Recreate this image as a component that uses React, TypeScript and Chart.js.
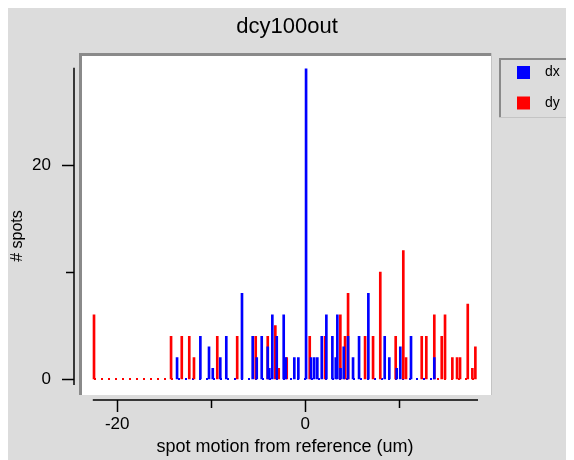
import React, { useEffect, useRef } from 'react';
import { Chart, registerables } from 'chart.js';

Chart.register(...registerables);

const TITLE = 'dcy100out';
const X_TITLE = 'spot motion from reference (um)';
const Y_TITLE = '# spots';
const SERIES_LABELS = ['dx', 'dy'];
const X_LABELED_TICKS = [-20, 0];
const Y_LABELED_TICKS = [0, 20];

// dx histogram (blue): bin positions (um) and counts
const dxPos = [-13.63, -11.15, -10.23, -9.83, -9.03, -8.39, -6.72, -5.58, -5.15, -4.62, -3.98, -3.81, -3.49, -3.02, -2.28, -2.06, -1.15, -0.72, 0.1, 0.63, 0.97, 1.3, 1.77, 2.26, 2.9, 3.26, 3.43, 3.77, 4.11, 4.57, 5.1, 5.74, 6.73, 8.47, 8.96, 9.75, 10.13, 11.27, 13.75];
const dxCount = [2, 4, 3, 1, 2, 4, 8, 4, 2, 4, 3, 1, 6, 4, 6, 2, 2, 2, 29, 2, 2, 2, 4, 6, 4, 2, 6, 1, 3, 4, 2, 4, 8, 4, 2, 1, 3, 4, 2];

// dy histogram (red)
const dyPos = [-22.47, -14.27, -13.13, -12.33, -11.83, -9.35, -7.23, -5.26, -3.98, -3.17, -2.81, -1.96, 0.49, 2.12, 3.75, 4.25, 4.57, 6.38, 7.23, 8.0, 9.64, 10.45, 10.74, 12.41, 12.9, 13.75, 14.54, 14.89, 15.67, 16.17, 16.49, 17.31, 17.8, 18.12];
const dyCount = [6, 4, 4, 4, 2, 4, 4, 4, 4, 5, 1, 2, 4, 4, 6, 4, 8, 4, 4, 10, 4, 12, 2, 4, 4, 6, 4, 6, 2, 2, 2, 7, 1, 3];

// extent of each histogram (zero bins drawn as dotted baseline)
const dxRange = [-13.9, 13.75];
const dyRange = [-22.47, 18.12];

const X_MIN = -24.6;
const X_MAX = 18.4;
const X_AXIS_START = -22.6;
const Y_MIN = -0.56;
const Y_MAX = 29.1;

const BG = '#dcdcdc';
const BLUE = '#0000ff';
const RED = '#ff0000';
const FONT = "'Liberation Sans', Arial, sans-serif";

export default function App() {
  const ref = useRef<HTMLCanvasElement | null>(null);

  useEffect(() => {
    if (!ref.current) return;

    const framePlugin = {
      id: 'igorFrame',
      beforeDraw(chart: any) {
        const ctx = chart.ctx;
        ctx.save();
        ctx.fillStyle = BG;
        ctx.fillRect(0, 0, chart.width, chart.height);
        // white plot box
        ctx.fillStyle = '#ffffff';
        ctx.fillRect(71, 48, 413, 342);
        ctx.fillStyle = '#8a8a8a';
        ctx.fillRect(71, 48, 413, 3);
        ctx.fillRect(71, 48, 3, 342);
        ctx.fillStyle = '#c4c4c4';
        ctx.fillRect(483, 48, 1, 342);
        ctx.restore();
      },
      afterDraw(chart: any) {
        const ctx = chart.ctx;
        const xs = chart.scales.x;
        const ys = chart.scales.y;
        const area = chart.chartArea;
        ctx.save();
        ctx.strokeStyle = '#000';
        ctx.lineWidth = 1.5;
        // x axis
        const axisY = 395;
        const x0 = xs.getPixelForValue(X_AXIS_START);
        const x1 = xs.getPixelForValue(X_MAX);
        ctx.beginPath();
        ctx.moveTo(x0, axisY);
        ctx.lineTo(x1, axisY);
        for (const t of xs.ticks) {
          const px = Math.round(xs.getPixelForValue(t.value)) + 0.5;
          const len = X_LABELED_TICKS.includes(t.value) ? 12 : 8;
          ctx.moveTo(px, axisY);
          ctx.lineTo(px, axisY + len);
        }
        ctx.stroke();
        // y axis
        const axisX = area.left;
        ctx.beginPath();
        ctx.moveTo(axisX, area.top);
        ctx.lineTo(axisX, area.bottom);
        for (const t of ys.ticks) {
          const py = Math.round(ys.getPixelForValue(t.value)) + 0.5;
          const len = Y_LABELED_TICKS.includes(t.value) ? 12 : 8;
          ctx.moveTo(axisX, py);
          ctx.lineTo(axisX - len, py);
        }
        ctx.stroke();

        // titles
        ctx.fillStyle = '#000';
        ctx.textAlign = 'center';
        ctx.textBaseline = 'middle';
        ctx.font = `22px ${FONT}`;
        ctx.fillText(TITLE, 279, 22);
        ctx.font = `18px ${FONT}`;
        ctx.fillText(X_TITLE, 277, 442);
        ctx.save();
        ctx.font = `16px ${FONT}`;
        ctx.translate(10, 231);
        ctx.rotate(-Math.PI / 2);
        ctx.fillText(Y_TITLE, 0, 0);
        ctx.restore();

        // legend
        ctx.fillStyle = '#8a8a8a';
        ctx.fillRect(491, 53, 75, 2);
        ctx.fillRect(491, 53, 2, 60);
        ctx.fillStyle = '#c4c4c4';
        ctx.fillRect(491, 112, 75, 1);
        const colors = [BLUE, RED];
        ctx.font = `14px ${FONT}`;
        ctx.textAlign = 'left';
        for (let i = 0; i < 2; i++) {
          const cy = 67.5 + i * 30.5;
          ctx.fillStyle = colors[i];
          ctx.fillRect(509, cy - 6.5, 13, 13);
          ctx.fillStyle = '#000';
          ctx.fillText(chart.data.datasets[i].label, 537, cy);
        }
        ctx.restore();
      },
    };

    const chart = new Chart(ref.current, {
      type: 'bar',
      data: {
        datasets: [
          {
            label: SERIES_LABELS[0],
            data: dxPos.map((x, i) => ({ x, y: dxCount[i] })),
            backgroundColor: BLUE,
            barThickness: 2,
            grouped: false,
            order: 0,
          } as any,
          {
            label: SERIES_LABELS[1],
            data: dyPos.map((x, i) => ({ x, y: dyCount[i] })),
            backgroundColor: RED,
            barThickness: 2,
            grouped: false,
            order: 1,
          } as any,
          {
            type: 'line',
            label: 'dx zero',
            data: [{ x: dxRange[0], y: 0 }, { x: dxRange[1], y: 0 }],
            borderColor: BLUE,
            borderWidth: 2,
            borderDash: [2, 5],
            borderDashOffset: 3.5,
            pointRadius: 0,
            order: 2,
          } as any,
          {
            type: 'line',
            label: 'dy zero',
            data: [{ x: dyRange[0], y: 0 }, { x: dyRange[1], y: 0 }],
            borderColor: RED,
            borderWidth: 2,
            borderDash: [2, 5],
            pointRadius: 0,
            order: 3,
          } as any,
        ],
      },
      options: {
        animation: false,
        responsive: false,
        maintainAspectRatio: false,
        layout: { padding: { top: 62.7, right: 96, left: 0, bottom: 0 } },
        plugins: {
          legend: { display: false },
          title: { display: false },
          tooltip: { enabled: false },
        },
        scales: {
          x: {
            type: 'linear',
            min: X_MIN,
            max: X_MAX,
            offset: false,
            grid: { display: false, drawTicks: false },
            border: { display: false },
            ticks: {
              stepSize: 10,
              includeBounds: false,
              autoSkip: false,
              maxRotation: 0,
              padding: 29,
              color: '#000',
              font: { family: FONT, size: 17 },
              callback: (v: any) => (X_LABELED_TICKS.includes(Number(v)) ? String(v) : ''),
            },
            afterFit: (s: any) => {
              s.height = 75;
            },
          },
          y: {
            type: 'linear',
            min: Y_MIN,
            max: Y_MAX,
            grid: { display: false, drawTicks: false },
            border: { display: false },
            ticks: {
              stepSize: 10,
              includeBounds: false,
              padding: 23,
              color: '#000',
              font: { family: FONT, size: 17 },
              callback: (v: any) => (Y_LABELED_TICKS.includes(Number(v)) ? String(v) : ''),
            },
            afterFit: (s: any) => {
              s.width = 66;
            },
          },
        },
      },
      plugins: [framePlugin],
    } as any);

    return () => chart.destroy();
  }, []);

  return (
    <div style={{ marginTop: -3, width: 566, height: 455 }}>
      <canvas ref={ref} width={566} height={455} style={{ display: 'block', width: 566, height: 455 }} />
    </div>
  );
}
